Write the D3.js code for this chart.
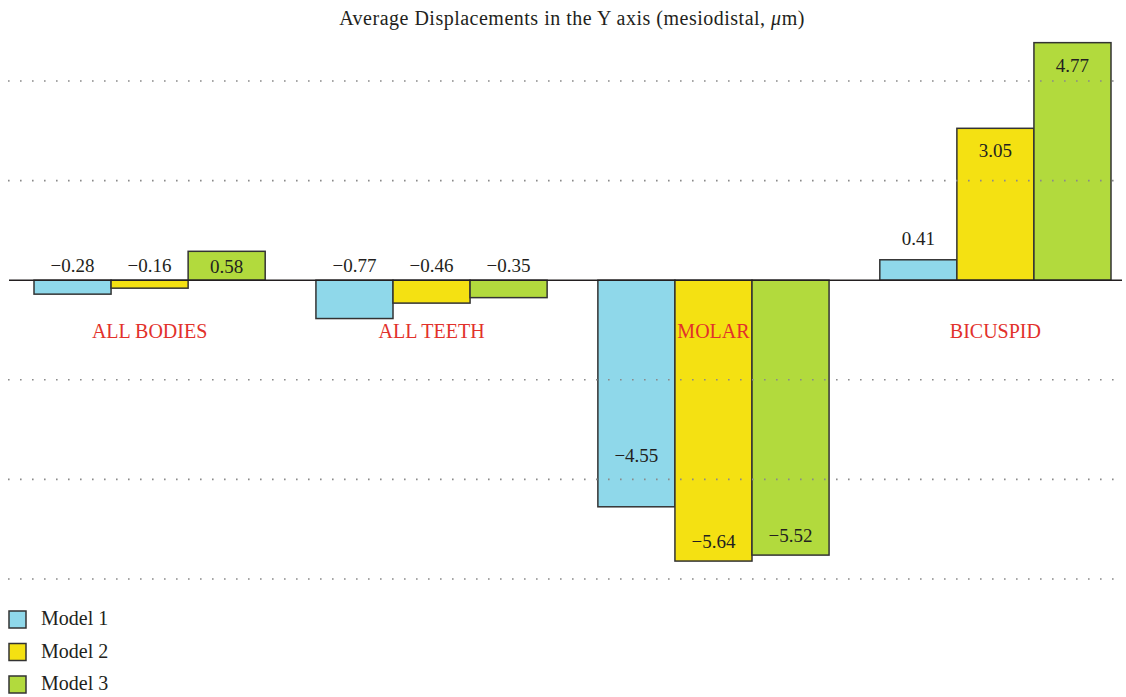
<!DOCTYPE html>
<html>
<head>
<meta charset="utf-8">
<script src="https://cdn.jsdelivr.net/npm/d3@7"></script>
<style>
  body { margin: 0; background: #fff; }
  svg text { font-family: "Liberation Serif", "DejaVu Serif", serif; fill: #231f20; }
  .grid line { stroke: #8a8a8a; stroke-width: 1.6; stroke-dasharray: 1.6 10.4; }
  .cat { fill: #e2312b !important; }
</style>
</head>
<body>
<script>
// data
const categories = ['ALL BODIES', 'ALL TEETH', 'MOLAR', 'BICUSPID']
const models = ['Model 1', 'Model 2', 'Model 3']
const model1 = [-0.28, -0.77, -4.55, 0.41]
const model2 = [-0.16, -0.46, -5.64, 3.05]
const model3 = [0.58, -0.35, -5.52, 4.77]
const gridTicks = [4, 2, -2, -4, -6]
const colors = ['#8fd8ea', '#f4e112', '#b2da3d']

const width = 1126
const height = 697

const svg = d3.select('body').append('svg')
  .attr('width', width)
  .attr('height', height)

const y = d3.scaleLinear().domain([-6, 4]).range([579, 81])

const x0 = d3.scaleBand()
  .domain(categories)
  .range([34, 1111])
  .paddingInner(0.18)
  .paddingOuter(0)

const x1 = d3.scaleBand()
  .domain(models)
  .range([0, x0.bandwidth()])

const series = [model1, model2, model3]
const rows = []
categories.forEach((c, i) => {
  models.forEach((m, j) => {
    rows.push({ cat: c, model: m, value: series[j][i], color: colors[j] })
  })
})

// title
svg.append('text')
  .attr('x', 572)
  .attr('y', 25)
  .attr('text-anchor', 'middle')
  .style('font-size', '20px')
  .style('letter-spacing', '0.5px')
  .html('Average Displacements in the Y axis (mesiodistal, <tspan font-style="italic">μ</tspan>m)')

// bars
svg.append('g')
  .selectAll('rect')
  .data(rows)
  .enter().append('rect')
    .attr('x', d => x0(d.cat) + x1(d.model))
    .attr('width', x1.bandwidth())
    .attr('y', d => y(Math.max(0, d.value)))
    .attr('height', d => Math.abs(y(d.value) - y(0)))
    .attr('fill', d => d.color)
    .attr('stroke', '#333')
    .attr('stroke-width', 1.5)

// dotted grid on top of bars
svg.append('g')
  .attr('class', 'grid')
  .selectAll('line')
  .data(gridTicks)
  .enter().append('line')
    .attr('x1', 8)
    .attr('x2', 1124)
    .attr('y1', d => y(d))
    .attr('y2', d => y(d))

// zero line
svg.append('line')
  .attr('x1', 9)
  .attr('x2', 1122)
  .attr('y1', y(0))
  .attr('y2', y(0))
  .attr('stroke', '#231f20')
  .attr('stroke-width', 1.5)

// value labels
function labelY(v) {
  const top = y(Math.max(0, v))
  const bottom = y(Math.min(0, v))
  const h = bottom - top
  if (v >= 0) {
    if (h < 25) return top - 15
    if (h < 45) return (top + bottom) / 2 + 7
    return top + 29
  }
  if (h < 50) return y(0) - 8
  let base = bottom - 13
  // keep the label clear of a grid line
  gridTicks.forEach(t => {
    const gy = y(t)
    if (gy > base - 15 && gy < base + 3) base = gy - 17
  })
  return base
}

svg.append('g')
  .selectAll('text')
  .data(rows)
  .enter().append('text')
    .attr('x', d => x0(d.cat) + x1(d.model) + x1.bandwidth() / 2)
    .attr('y', d => labelY(d.value))
    .attr('text-anchor', 'middle')
    .style('font-size', '19px')
    .text(d => d3.format('.2f')(d.value).replace('-', '\u2212'))

// category labels
svg.append('g')
  .selectAll('text')
  .data(categories)
  .enter().append('text')
    .attr('class', 'cat')
    .attr('x', d => x0(d) + x0.bandwidth() / 2)
    .attr('y', 338)
    .attr('text-anchor', 'middle')
    .style('font-size', '20px')
    .text(d => d)

// legend
const legend = svg.append('g')
  .attr('transform', 'translate(9, 611)')

const item = legend.selectAll('g')
  .data(models)
  .enter().append('g')
    .attr('transform', (d, i) => 'translate(0,' + (i * 32.5) + ')')

item.append('rect')
  .attr('width', 17)
  .attr('height', 17)
  .attr('fill', (d, i) => colors[i])
  .attr('stroke', '#333')
  .attr('stroke-width', 1.5)

item.append('text')
  .attr('x', 32)
  .attr('y', 14)
  .style('font-size', '20px')
  .text(d => d)
</script>
</body>
</html>
